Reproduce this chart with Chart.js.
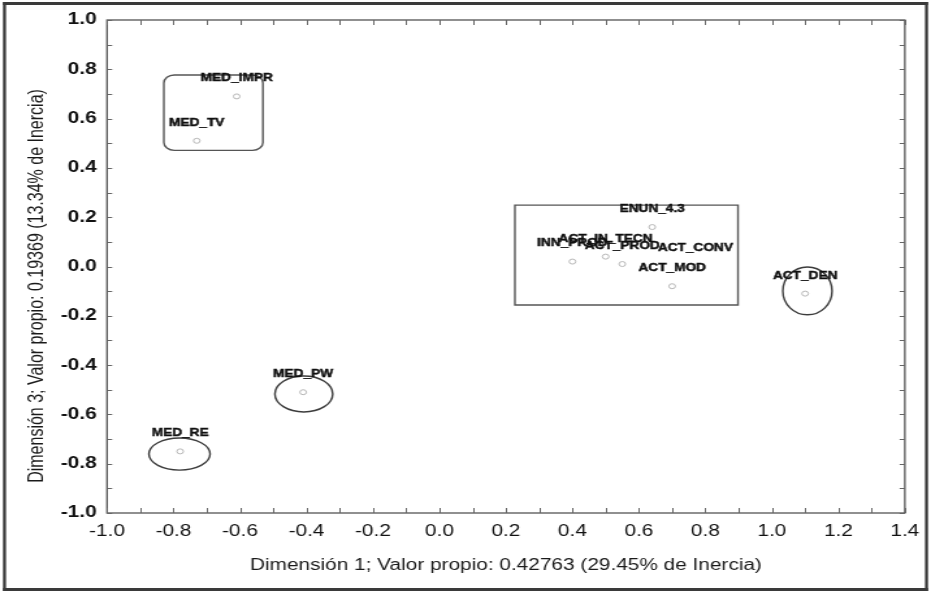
<!DOCTYPE html>
<html>
<head>
<meta charset="utf-8">
<script src="https://cdn.jsdelivr.net/npm/chart.js@4.4.1/dist/chart.umd.min.js"></script>
<style>
  html, body { margin: 0; padding: 0; background: #fff; overflow: hidden; }
  #wrap { width: 716px; height: 593px; transform-origin: 0 0; }
  canvas { display: block; }
</style>
</head>
<body>
<div id="wrap"><canvas id="c" width="716" height="593"></canvas></div>
<script>
// Correspondence analysis: category coordinates on dimensions 1 and 3
const categories = ['MED_IMPR', 'MED_TV', 'MED_PW', 'MED_RE', 'ENUN_4.3', 'ACT_IN_TECN',
                    'INN_PROD', 'ACT_PROD', 'ACT_CONV', 'ACT_MOD', 'ACT_DEN'];
const dim1 = [-0.61, -0.73, -0.41, -0.78, 0.64, 0.50, 0.40, 0.55, 0.77, 0.70, 1.10];
const dim3 = [ 0.69,  0.51, -0.51, -0.75, 0.16, 0.04, 0.02, 0.01, 0.00, -0.08, -0.11];

const xTicks = [-1.0, -0.8, -0.6, -0.4, -0.2, 0.0, 0.2, 0.4, 0.6, 0.8, 1.0, 1.2, 1.4];
const yTicks = [-1.0, -0.8, -0.6, -0.4, -0.2, 0.0, 0.2, 0.4, 0.6, 0.8, 1.0];

const xTitle = 'Dimensión 1; Valor propio: 0.42763 (29.45% de Inercia)';
const yTitle = 'Dimensión 3; Valor propio: 0.19369 (13.34% de Inercia)';

// Hand-drawn groupings, in axis units
const groupEllipses = [
  { cx: -0.408, cy: -0.517, rx: 0.087, ry: 0.073 },
  { cx: -0.782, cy: -0.761, rx: 0.092, ry: 0.065 },
  { cx:  1.107, cy: -0.099, rx: 0.074, ry: 0.097 }
];
const groupBoxes = [
  { x0: -0.829, y0: 0.777, x1: -0.531, y1: 0.471, r: 8 },
  { x0:  0.227, y0: 0.249, x1:  0.898, y1: -0.156, r: 0 }
];

// the figure is a horizontally stretched rendering
const stretch = 931 / 716;
document.getElementById('wrap').style.transform = 'scaleX(' + stretch + ')';

const decor = {
  id: 'decor',
  beforeDraw(chart) {
    const ctx = chart.ctx;
    ctx.save();
    ctx.fillStyle = '#ffffff';
    ctx.fillRect(0, 0, chart.width, chart.height);
    ctx.restore();
  },
  afterDatasetsDraw(chart) {
    const { ctx, chartArea: a, scales: { x, y } } = chart;
    ctx.save();
    // plot frame
    ctx.strokeStyle = '#555';
    ctx.lineWidth = 1.3;
    ctx.strokeRect(a.left, a.top, a.right - a.left, a.bottom - a.top);
    // inward tick marks every 0.1
    ctx.lineWidth = 1;
    ctx.strokeStyle = '#666';
    ctx.beginPath();
    for (let k = -10; k <= 14; k++) {
      const px = Math.round(x.getPixelForValue(k / 10)) + 0.5;
      ctx.moveTo(px, a.bottom); ctx.lineTo(px, a.bottom - 5);
      ctx.moveTo(px, a.top); ctx.lineTo(px, a.top + 5);
    }
    for (let k = -10; k <= 10; k++) {
      const py = Math.round(y.getPixelForValue(k / 10)) + 0.5;
      ctx.moveTo(a.left, py); ctx.lineTo(a.left + 4, py);
      ctx.moveTo(a.right, py); ctx.lineTo(a.right - 4, py);
    }
    ctx.stroke();

    // grouping outlines
    ctx.strokeStyle = '#3c3c3c';
    ctx.lineWidth = 1.4;
    groupEllipses.forEach(e => {
      const cx = x.getPixelForValue(e.cx), cy = y.getPixelForValue(e.cy);
      const rx = Math.abs(x.getPixelForValue(e.cx + e.rx) - cx);
      const ry = Math.abs(y.getPixelForValue(e.cy + e.ry) - cy);
      ctx.beginPath();
      ctx.ellipse(cx, cy, rx, ry, 0, 0, Math.PI * 2);
      ctx.stroke();
    });
    ctx.strokeStyle = '#555';
    groupBoxes.forEach(b => {
      const l = x.getPixelForValue(b.x0), t = y.getPixelForValue(b.y0);
      const r = x.getPixelForValue(b.x1), bt = y.getPixelForValue(b.y1);
      ctx.beginPath();
      ctx.roundRect(l, t, r - l, bt - t, b.r);
      ctx.stroke();
    });

    // category labels above their points
    ctx.fillStyle = '#111';
    ctx.strokeStyle = '#111';
    ctx.lineWidth = 0.45;
    ctx.font = 'bold 10.5px "Liberation Sans", Arial, sans-serif';
    ctx.textAlign = 'center';
    ctx.textBaseline = 'middle';
    const meta = chart.getDatasetMeta(0);
    meta.data.forEach((pt, i) => {
      ctx.fillText(categories[i], pt.x, pt.y - 18);
      ctx.strokeText(categories[i], pt.x, pt.y - 18);
    });

    // vertical axis title
    ctx.save();
    ctx.translate(28.5, 286);
    ctx.rotate(-Math.PI / 2);
    ctx.fillStyle = '#1a1a1a';
    ctx.font = '16px "Liberation Sans", Arial, sans-serif';
    ctx.fillText(yTitle, 0, 0);
    ctx.restore();

    // outer border of the figure
    ctx.fillStyle = '#3a3a3a';
    ctx.fillRect(2.3, 2, 2.3, chart.height - 4);
    ctx.fillRect(chart.width - 4.6, 2, 2.3, chart.height - 4);
    ctx.fillRect(2.3, 2, chart.width - 4.6, 3);
    ctx.fillRect(2.3, chart.height - 5, chart.width - 4.6, 3);
    ctx.restore();
  }
};

const points = dim1.map((v, i) => ({ x: v, y: dim3[i] }));

new Chart(document.getElementById('c'), {
  type: 'scatter',
  data: {
    datasets: [{
      data: points,
      pointRadius: 2.5,
      pointBorderWidth: 1,
      pointBackgroundColor: 'rgba(0,0,0,0)',
      pointBorderColor: '#b8b8b8'
    }]
  },
  options: {
    responsive: false,
    animation: false,
    devicePixelRatio: 1,
    layout: { padding: { top: 20, right: 19.8, left: 0, bottom: 0 } },
    plugins: { legend: { display: false }, tooltip: { enabled: false } },
    scales: {
      x: {
        type: 'linear',
        min: -1.0,
        max: 1.4,
        afterBuildTicks: s => { s.ticks = xTicks.map(v => ({ value: v })); },
        afterFit: s => { s.height = 80; },
        grid: { display: false, drawTicks: false },
        border: { display: false },
        ticks: {
          padding: 9,
          color: '#111',
          font: { family: '"Liberation Sans", Arial, sans-serif', size: 16 },
          callback: v => Number(v).toFixed(1),
          maxRotation: 0,
          autoSkip: false
        },
        title: {
          display: true,
          text: xTitle,
          color: '#1a1a1a',
          font: { family: '"Liberation Sans", Arial, sans-serif', size: 16 },
          padding: { top: 0, bottom: 18 }
        }
      },
      y: {
        type: 'linear',
        min: -1.0,
        max: 1.0,
        afterBuildTicks: s => { s.ticks = yTicks.map(v => ({ value: v })); },
        afterFit: s => { s.width = 82.3; },
        grid: { display: false, drawTicks: false },
        border: { display: false },
        ticks: {
          padding: 8,
          color: '#111',
          font: { family: '"Liberation Sans", Arial, sans-serif', size: 16, weight: 'bold' },
          callback: v => Number(v).toFixed(1),
          autoSkip: false
        },
        title: { display: false, text: yTitle }
      }
    }
  },
  plugins: [decor]
});
</script>
</body>
</html>
